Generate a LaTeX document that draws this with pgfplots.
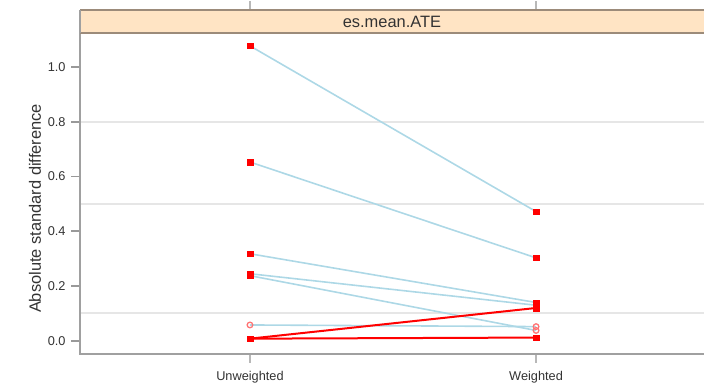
\documentclass[border=0pt]{standalone}
\usepackage{pgfplots}
\pgfplotsset{compat=1.18}
\usetikzlibrary{calc}
\usepackage{fontspec}
\setmainfont{Liberation Sans}
\definecolor{stripfill}{HTML}{FFE4C4}
\definecolor{stripline}{HTML}{9C8B7A}
\definecolor{axgray}{HTML}{A0A0A0}
\definecolor{tickgray}{HTML}{999999}
\definecolor{refgray}{HTML}{E6E6E6}
\definecolor{lblue}{HTML}{ADD8E6}
\definecolor{txt}{HTML}{333333}
\begin{document}
\begin{tikzpicture}
\begin{axis}[
  at={(0,0)}, anchor=south west,
  scale only axis, width=624bp, height=321bp,
  xmin=0.406, xmax=2.587, ymin=-0.048, ymax=1.124,
  axis line style={draw=none},
  xtick pos=left, ytick pos=left,
  xtick={1,2}, xticklabels={Unweighted,Weighted},
  ytick={0,0.2,0.4,0.6,0.8,1.0},
  yticklabel style={xshift=-3bp, /pgf/number format/.cd, fixed, fixed zerofill, precision=1},
  /pgf/number format/assume math mode=true,
  tick align=outside, major tick length=8bp,
  major tick style={draw=tickgray, line width=1.6bp},
  ticklabel style={font=\fontsize{12.8}{14}\selectfont, text=txt},
  xticklabel style={yshift=-6bp},
  ylabel={Absolute standard difference},
  ylabel style={font=\fontsize{16.5}{18}\selectfont, text=txt},
  every axis y label/.append style={at={(ticklabel cs:0.5)}, xshift=-15bp},
  clip=true,
]
% reference lines
\addplot[refgray, line width=2bp, forget plot] coordinates {(0.406,0.1) (2.587,0.1)};
\addplot[refgray, line width=2bp, forget plot] coordinates {(0.406,0.5) (2.587,0.5)};
\addplot[refgray, line width=2bp, forget plot] coordinates {(0.406,0.8) (2.587,0.8)};
% decreasing (blue) lines
\addplot[lblue, line width=1.6bp] coordinates {(1,1.077) (2,0.472)};
\addplot[lblue, line width=1.6bp] coordinates {(1,0.653) (2,0.303)};
\addplot[lblue, line width=1.6bp] coordinates {(1,0.318) (2,0.140)};
\addplot[lblue, line width=1.6bp] coordinates {(1,0.245) (2,0.130)};
\addplot[lblue, line width=1.6bp] coordinates {(1,0.238) (2,0.038)};
\addplot[lblue, line width=1.6bp] coordinates {(1,0.058) (2,0.052)};
% increasing (red) lines
\addplot[red, line width=2bp] coordinates {(1,0.008) (2,0.120)};
\addplot[red, line width=2bp] coordinates {(1,0.008) (2,0.012)};
% significant points
\addplot[only marks, mark=square*, mark size=2.8bp, red, mark options={draw=red, fill=red}] coordinates {
 (1,1.077) (1,0.653) (1,0.318) (1,0.245) (1,0.238) (1,0.008)
 (2,0.472) (2,0.303) (2,0.140) (2,0.130) (2,0.120) (2,0.012)};
% non-significant points
\addplot[only marks, mark=o, mark size=2.8bp, mark options={draw=red!55, line width=1.3bp}] coordinates {
 (1,0.058) (2,0.052) (2,0.038)};
\coordinate (t1) at (axis cs:1,1.124);
\coordinate (t2) at (axis cs:2,1.124);
\coordinate (b1) at (axis cs:1,-0.048);
\coordinate (b2) at (axis cs:2,-0.048);
\coordinate (y0) at (axis cs:0.406,0);
\coordinate (y2) at (axis cs:0.406,0.2);
\coordinate (y4) at (axis cs:0.406,0.4);
\coordinate (y6) at (axis cs:0.406,0.6);
\coordinate (y8) at (axis cs:0.406,0.8);
\coordinate (y10) at (axis cs:0.406,1.0);
\coordinate (tl) at (rel axis cs:0,1);
\coordinate (tr) at (rel axis cs:1,1);
\coordinate (bl) at (rel axis cs:0,0);
\coordinate (br) at (rel axis cs:1,0);
\end{axis}
% panel frame (left and bottom)
\draw[axgray, line width=2bp] (tl) -- (bl) -- (br);
% tick marks
\foreach \c in {y0,y2,y4,y6,y8,y10}{
  \draw[tickgray, line width=1.6bp] ([xshift=-1bp]\c) -- ([xshift=-9bp]\c);
}
\foreach \c in {b1,b2}{
  \draw[tickgray!70, line width=1.6bp] ([yshift=-1bp]\c) -- ([yshift=-9bp]\c);
}
% strip
\fill[stripfill] (tl) rectangle ([yshift=23bp]tr);
\draw[stripline, line width=2.5bp] (tl) -- (tr);
\draw[stripline, line width=2.5bp] ([yshift=23bp]tl) -- ([yshift=23bp]tr);
\draw[axgray, line width=2bp] (tl) -- ([yshift=23bp]tl);
\node[font=\fontsize{16.5}{18}\selectfont, text=txt, anchor=center] at ($(tl)!0.5!(tr)+(0,11.5bp)$) {es.mean.ATE};
% top tick marks above the strip
\draw[tickgray!70, line width=1.6bp] ([yshift=24bp]t1) -- ([yshift=32bp]t1);
\draw[tickgray!70, line width=1.6bp] ([yshift=24bp]t2) -- ([yshift=32bp]t2);
\pgfresetboundingbox
\path[use as bounding box] (-80bp,-36bp) rectangle (624bp,354bp);
\end{tikzpicture}
\end{document}
